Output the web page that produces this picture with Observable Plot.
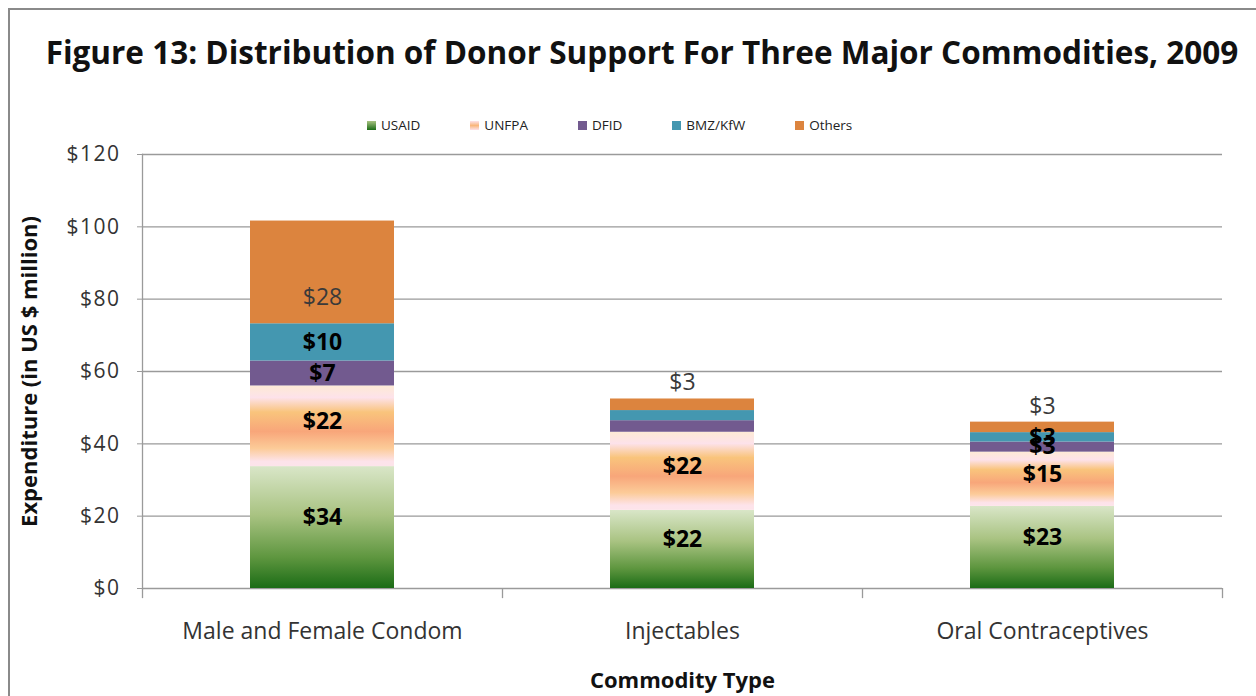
<!DOCTYPE html>
<html>
<head>
<meta charset="utf-8">
<script src="https://cdn.jsdelivr.net/npm/d3@7"></script>
<script src="https://cdn.jsdelivr.net/npm/@observablehq/plot@0.6"></script>
<style>
  html, body { margin: 0; padding: 0; background: #fff; }
  body { width: 1256px; height: 696px; position: relative; overflow: hidden; font-family: "Open Sans", sans-serif; }
  #border { position: absolute; left: 8px; top: 8px; width: 1300px; height: 760px; border: 2px solid #8a8a8a; box-sizing: border-box; }
  #title { position: absolute; left: 14px; top: 36px; width: 1256px; text-align: center; font-weight: 700; font-size: 31.5px; line-height: 31px; color: #111; white-space: nowrap; }
  #legend { position: absolute; left: 367px; top: 116px; display: flex; gap: 50px; font-size: 13.5px; line-height: 18px; color: #222; }
  #legend .item { display: flex; align-items: center; }
  #legend .sw { width: 9px; height: 9px; margin-right: 5px; }
  #chart { position: absolute; left: 0; top: 140px; }
  #chart g[aria-label="y-axis label"] text, #chart g[aria-label="x-axis label"] text { font-weight: 700; fill: #111; font-size: 22px; }
  #chart g[aria-label="y-axis tick label"] text { letter-spacing: 1.5px; }
</style>
</head>
<body>
<svg width="0" height="0" style="position:absolute">
  <defs>
    <linearGradient id="gUSAID" x1="0" y1="0" x2="0" y2="1">
      <stop offset="0" stop-color="#d9e6c8"/>
      <stop offset="0.4" stop-color="#a9c382"/>
      <stop offset="0.75" stop-color="#5e963f"/>
      <stop offset="1" stop-color="#1b6c16"/>
    </linearGradient>
    <linearGradient id="gUNFPA" x1="0" y1="0" x2="0" y2="1">
      <stop offset="0" stop-color="#fdead5"/>
      <stop offset="0.15" stop-color="#fde2ea"/>
      <stop offset="0.33" stop-color="#f9c47c"/>
      <stop offset="0.57" stop-color="#f8a67a"/>
      <stop offset="0.78" stop-color="#fccb98"/>
      <stop offset="0.94" stop-color="#fde3ea"/>
      <stop offset="1" stop-color="#fde4ea"/>
    </linearGradient>
  </defs>
</svg>
<div id="border"></div>
<div id="title">Figure 13: Distribution of Donor Support For Three Major Commodities, 2009</div>
<div id="legend"></div>
<div id="chart"></div>
<script>
// ---- data ----
const categories = ["Male and Female Condom", "Injectables", "Oral Contraceptives"];
const donors = ["USAID", "UNFPA", "DFID", "BMZ/KfW", "Others"];
const usaid  = [33.7, 21.6, 22.7];
const unfpa  = [22.3, 21.6, 15.0];
const dfid   = [6.9, 3.2, 2.8];
const bmz    = [10.3, 2.8, 2.6];
const others = [28.4, 3.2, 2.9];
const yTicks = [0, 20, 40, 60, 80, 100, 120];
const unlabeled = [["Injectables", "DFID"], ["Injectables", "BMZ/KfW"]];

const donorFills = ["url(#gUSAID)", "url(#gUNFPA)", "#725a8f", "#4497b0", "#dc843e"];
const legendSwatches = [
  "linear-gradient(#a9c382, #1b6c16)",
  "linear-gradient(#fde2ea, #f9b77c, #fde2ea)",
  "#725a8f", "#4497b0", "#dc843e"
];

const series = [usaid, unfpa, dfid, bmz, others];
const rows = [];
categories.forEach((cat, i) => {
  donors.forEach((donor, j) => rows.push({cat, donor, value: series[j][i]}));
});
const isHidden = d => unlabeled.some(([c, s]) => c === d.cat && s === d.donor);
const fmt = v => "$" + Math.round(v);
const solidDonors = ["DFID", "BMZ/KfW"];

// ---- legend ----
const legend = document.getElementById("legend");
donors.forEach((d, i) => {
  const it = document.createElement("div");
  it.className = "item";
  const sw = document.createElement("div");
  sw.className = "sw";
  sw.style.background = legendSwatches[i];
  const t = document.createElement("span");
  t.textContent = d;
  it.append(sw, t);
  legend.append(it);
});

// ---- chart ----
const W = 1256, H = 556, ML = 142, MR = 34, MT = 14, MB = 108;
const step = (W - ML - MR) / categories.length;

const chart = Plot.plot({
  width: W,
  height: H,
  marginLeft: ML,
  marginRight: MR,
  marginTop: MT,
  marginBottom: MB,
  style: {fontFamily: "Open Sans, sans-serif", fontSize: "20px", color: "#333", background: "transparent"},
  x: {domain: categories, paddingInner: 0.6, paddingOuter: 0.3},
  y: {domain: [0, 120]},
  color: {domain: donors, range: donorFills},
  marks: [
    Plot.gridY(yTicks, {stroke: "#9a9a9a", strokeOpacity: 1, strokeWidth: 1.3}),
    Plot.frame({anchor: "left", stroke: "#9a9a9a", strokeWidth: 1.3}),
    Plot.ruleX(categories, {x: d => d, y1: 0, y2: -2.8, dx: -step / 2, stroke: "#9a9a9a", strokeWidth: 1.3}),
    Plot.ruleX(categories.slice(-1), {x: d => d, y1: 0, y2: -2.8, dx: step / 2, stroke: "#9a9a9a", strokeWidth: 1.3}),
    Plot.axisY({
      ticks: yTicks, tickFormat: d => "$" + d, tickSize: 5, tickPadding: 17,
      stroke: "#9a9a9a", fontSize: 21,
      label: "Expenditure (in US $ million)", labelAnchor: "center", labelOffset: 121, labelArrow: "none"
    }),
    Plot.axisX({
      tickSize: 0, tickPadding: 34, fontSize: 23,
      label: "Commodity Type", labelAnchor: "center", labelOffset: 99, labelArrow: "none"
    }),
    Plot.barY(rows, {x: "cat", y: "value", fill: "donor"}),
    // USAID labels (a little above the middle)
    Plot.text(rows, Plot.stackY({
      x: "cat", y: "value", z: "donor",
      text: d => d.donor === "USAID" && !isHidden(d) ? fmt(d.value) : null,
      fill: "#000", fontWeight: 700, fontSize: 23, dy: -10
    })),
    // UNFPA labels
    Plot.text(rows, Plot.stackY({
      x: "cat", y: "value", z: "donor",
      text: d => d.donor === "UNFPA" && !isHidden(d) ? fmt(d.value) : null,
      fill: "#000", fontWeight: 700, fontSize: 23, dy: -5
    })),
    // labels on the solid thin segments
    Plot.text(rows, Plot.stackY({
      x: "cat", y: "value", z: "donor",
      text: d => solidDonors.includes(d.donor) && !isHidden(d) ? fmt(d.value) : null,
      fill: "#000", fontWeight: 700, fontSize: 23
    })),
    // "Others" label inside a tall segment
    Plot.text(rows, Plot.stackY({
      x: "cat", y: "value", z: "donor",
      text: d => (d.donor === "Others" && d.value >= 5) ? fmt(d.value) : null,
      fill: "#3a3a3a", fontSize: 23, dy: 25
    })),
    // "Others" label above a short segment
    Plot.text(rows, Plot.stackY2({
      x: "cat", y: "value", z: "donor",
      text: d => (d.donor === "Others" && d.value < 5) ? fmt(d.value) : null,
      fill: "#3a3a3a", fontSize: 23, dy: -16
    }))
  ]
});
document.getElementById("chart").append(chart);
</script>
</body>
</html>
